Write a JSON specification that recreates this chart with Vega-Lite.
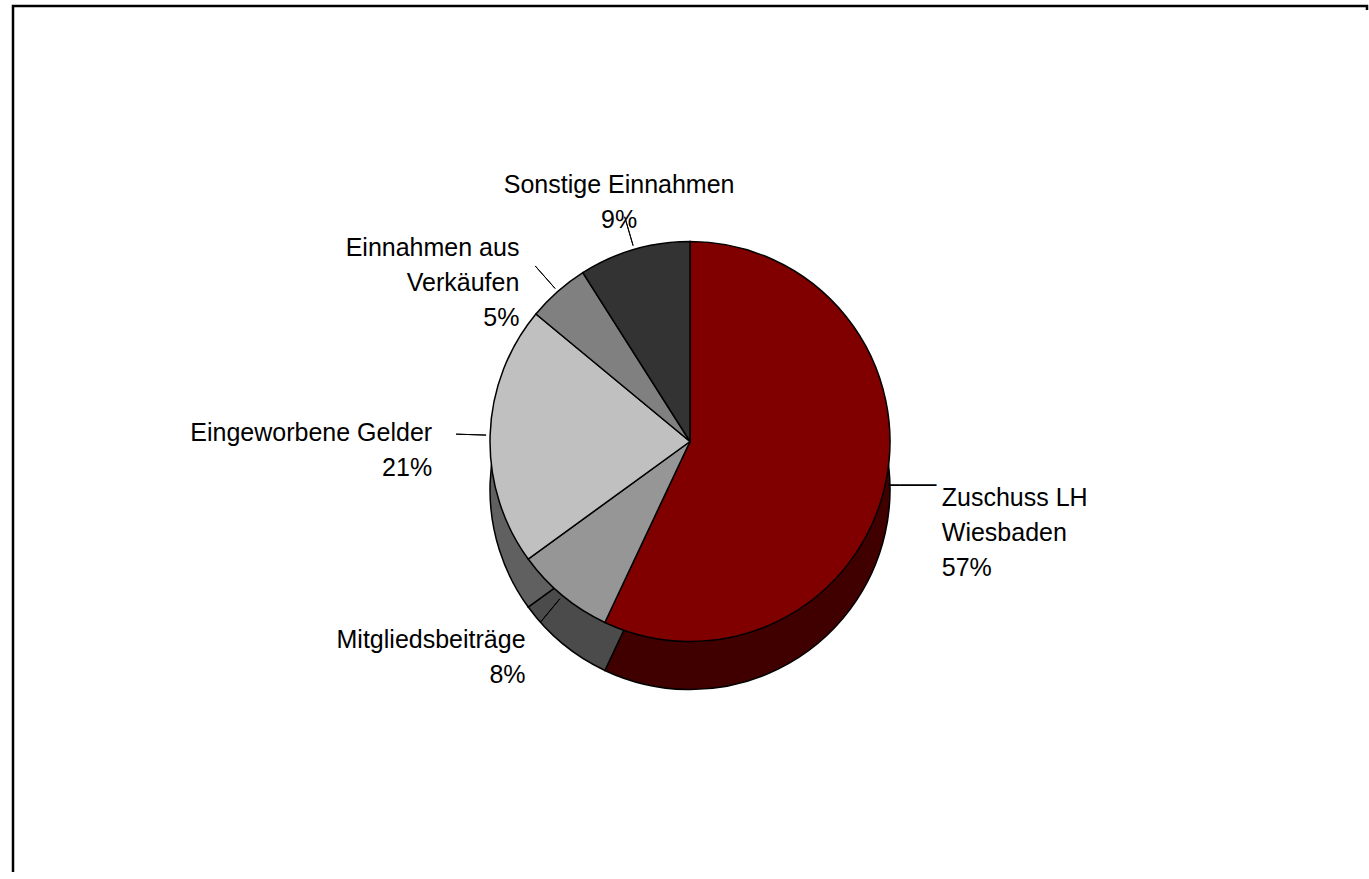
{
  "$schema": "https://vega.github.io/schema/vega-lite/v6.json",
  "width": 1369,
  "height": 879,
  "autosize": {"type": "fit", "contains": "padding"},
  "padding": {"left": 11, "top": 4, "right": 0, "bottom": 0},
  "background": "#ffffff",
  "config": {"view": {"stroke": null}},
  "datasets": {
    "einnahmen": [
      {"nr": 1, "Kategorie": "Zuschuss LH Wiesbaden", "Anteil": 57, "Label": "Zuschuss LH\nWiesbaden\n57%"},
      {"nr": 2, "Kategorie": "Mitgliedsbeiträge", "Anteil": 8, "Label": "Mitgliedsbeiträge\n8%"},
      {"nr": 3, "Kategorie": "Eingeworbene Gelder", "Anteil": 21, "Label": "Eingeworbene Gelder\n21%"},
      {"nr": 4, "Kategorie": "Einnahmen aus Verkäufen", "Anteil": 5, "Label": "Einnahmen aus\nVerkäufen\n5%"},
      {"nr": 5, "Kategorie": "Sonstige Einnahmen", "Anteil": 9, "Label": "Sonstige Einnahmen\n9%"}
    ],
    "rahmen": [{"name": "Rahmen"}]
  },
  "data": {"name": "einnahmen"},
  "encoding": {
    "theta": {"field": "Anteil", "type": "quantitative", "stack": true},
    "order": {"field": "nr", "type": "ordinal"}
  },
  "layer": [
    {
      "data": {"name": "rahmen"},
      "mark": {"type": "rect", "fill": "#ffffff", "fillOpacity": 0, "stroke": "#000000", "strokeWidth": 2.5, "strokeDash": [1358, 2226, 900, 0]},
      "encoding": {"theta": null, "order": null}
    },
    {
      "mark": {"type": "arc", "outerRadius": 200, "yOffset": 48, "stroke": "#000000", "strokeWidth": 1.5},
      "encoding": {
        "fill": {
          "field": "Kategorie", "type": "nominal", "legend": null,
          "scale": {
            "domain": ["Zuschuss LH Wiesbaden", "Mitgliedsbeiträge", "Eingeworbene Gelder", "Einnahmen aus Verkäufen", "Sonstige Einnahmen"],
            "range": ["#400000", "#4b4b4b", "#606060", "#404040", "#1a1a1a"]
          }
        }
      }
    },
    {
      "mark": {"type": "arc", "outerRadius": 200, "stroke": "#000000", "strokeWidth": 1.5},
      "encoding": {
        "color": {
          "field": "Kategorie", "type": "nominal", "legend": null,
          "scale": {
            "domain": ["Zuschuss LH Wiesbaden", "Mitgliedsbeiträge", "Eingeworbene Gelder", "Einnahmen aus Verkäufen", "Sonstige Einnahmen"],
            "range": ["#800000", "#969696", "#c0c0c0", "#808080", "#333333"]
          }
        }
      }
    },
    {
      "mark": {"type": "arc", "innerRadius": 204, "outerRadius": 234, "padAngle": 3.1416, "fillOpacity": 0, "stroke": "#000000", "strokeWidth": 1},
      "encoding": {
        "strokeOpacity": {
          "condition": {"test": "datum.Kategorie === 'Zuschuss LH Wiesbaden'", "value": 0},
          "value": 1
        }
      }
    },
    {
      "mark": {"type": "text", "radius": 203, "font": "DejaVu Sans Mono", "fontSize": 20, "color": "#000000", "align": "left", "baseline": "middle"},
      "encoding": {
        "text": {"value": "────"},
        "opacity": {
          "condition": {"test": "datum.Kategorie === 'Zuschuss LH Wiesbaden'", "value": 1},
          "value": 0
        }
      }
    },
    {
      "mark": {"type": "text", "radius": 258, "font": "Liberation Sans", "fontSize": 25, "lineHeight": 35, "lineBreak": "\n", "color": "#000000", "align": "right", "baseline": "middle"},
      "encoding": {
        "text": {"field": "Label", "type": "nominal"},
        "opacity": {
          "condition": {"test": "indexof(['Mitgliedsbeiträge', 'Eingeworbene Gelder', 'Einnahmen aus Verkäufen'], datum.Kategorie) >= 0", "value": 1},
          "value": 0
        }
      }
    },
    {
      "mark": {"type": "text", "radius": 258, "font": "Liberation Sans", "fontSize": 25, "lineHeight": 35, "lineBreak": "\n", "color": "#000000", "align": "left", "baseline": "middle"},
      "encoding": {
        "text": {"field": "Label", "type": "nominal"},
        "opacity": {
          "condition": {"test": "datum.Kategorie === 'Zuschuss LH Wiesbaden'", "value": 1},
          "value": 0
        }
      }
    },
    {
      "mark": {"type": "text", "radius": 254, "font": "Liberation Sans", "fontSize": 25, "lineHeight": 35, "lineBreak": "\n", "color": "#000000", "align": "center", "baseline": "bottom"},
      "encoding": {
        "text": {"field": "Label", "type": "nominal"},
        "opacity": {
          "condition": {"test": "datum.Kategorie === 'Sonstige Einnahmen'", "value": 1},
          "value": 0
        }
      }
    }
  ],
  "resolve": {"scale": {"fill": "independent", "color": "independent"}}
}
